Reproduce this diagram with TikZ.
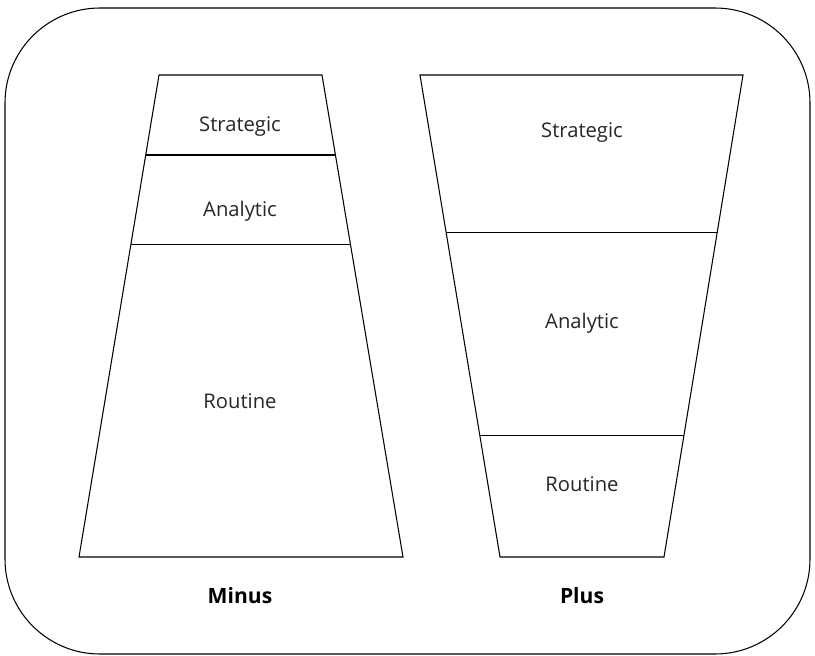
\documentclass[tikz,border=0pt]{standalone}
\usepackage{fontspec}
\setmainfont{Open Sans}
\usepackage{tikz}
\usetikzlibrary{calc}
\usetikzlibrary{positioning}

\begin{document}
\begin{tikzpicture}[x=0.02cm, y=-0.02cm, line width=0.6pt,
				level/.style={align=center, font=\fontsize{11.5}{14}\selectfont\color{black!85}},
				caption/.style={align=center, font=\fontsize{12}{14}\selectfont\bfseries}]
				\useasboundingbox (0, 0) rectangle (815, 656);
				\draw[rounded corners=1.9cm] (5, 8) rectangle (810, 654);
				
				% minus
				\coordinate (mtl) at (159, 75);
				\coordinate (mtr) at (322, 75);
				\coordinate (mbl) at (79, 557);
				\coordinate (mbr) at (403, 557);
				\draw (mtl) -- (mtr) -- (mbr) -- (mbl) -- cycle;
				\draw ($(mtl)!0.166!(mbl)$) -- ($(mtr)!0.166!(mbr)$);
				\draw ($(mtl)!0.351!(mbl)$) -- ($(mtr)!0.351!(mbr)$);
				
				\node[level](mstrat) at (240, 127) {Strategic};
				\node[level](manal) at (240, 211) {Analytic};
				\node[level](mrout) at (240, 401) {Routine};
				\node[caption](minus) at (240, 596) {Minus};
				
				% plus
				\coordinate (ptl) at (420, 75);
				\coordinate (ptr) at (743, 75);
				\coordinate (pbl) at (500, 557);
				\coordinate (pbr) at (664, 557);
				\draw (ptl) -- (ptr) -- (pbr) -- (pbl) -- cycle;
				\draw ($(ptl)!0.326!(pbl)$) -- ($(ptr)!0.326!(pbr)$);
				\draw ($(ptl)!0.747!(pbl)$) -- ($(ptr)!0.747!(pbr)$);
				
				\node[level](pstrat) at (582, 133) {Strategic};
				\node[level](panal) at (582, 323) {Analytic};
				\node[level](prout) at (582, 484) {Routine};
				\node[caption](plus) at (582, 596) {Plus};
			\end{tikzpicture}
\end{document}
